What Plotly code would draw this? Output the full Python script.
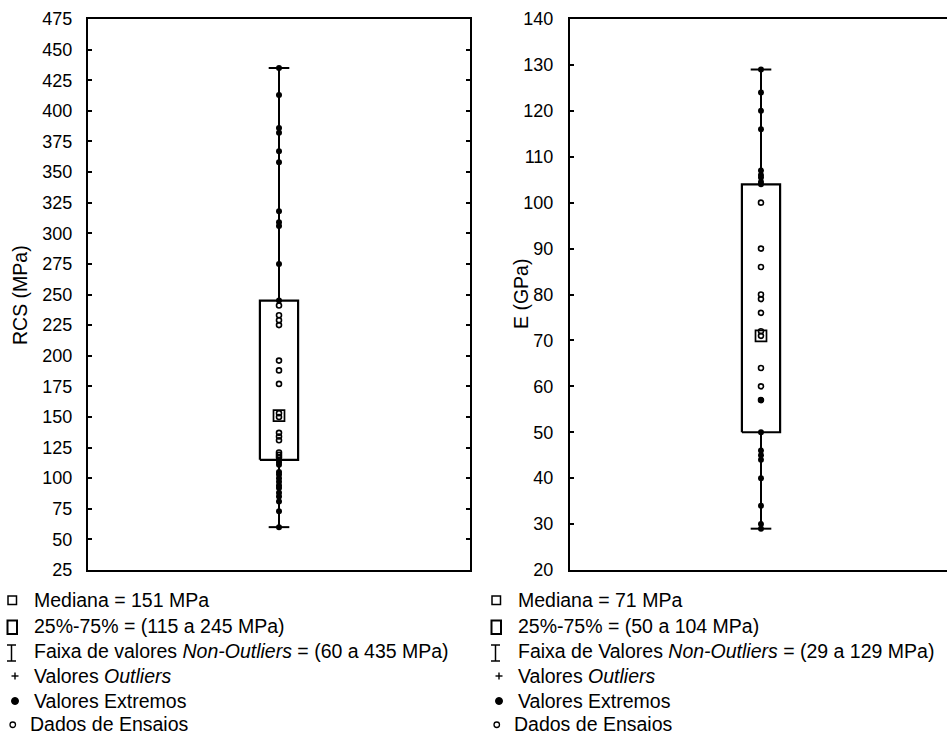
import plotly.graph_objects as go

# ---------------- data ----------------
rcs_test = [241, 233, 229, 225, 196, 188, 177, 153, 150, 137, 134, 131, 121, 119, 117]
rcs_extreme = [435, 413, 386, 382, 367, 358, 318, 309, 306, 275, 245,
               115, 113, 111, 105, 103, 100, 97, 94, 92, 88, 85, 81, 73, 60]
rcs_q1, rcs_median, rcs_q3, rcs_lo, rcs_hi = 115, 151, 245, 60, 435

e_test = [100, 90, 86, 80, 79, 76, 72, 71, 64, 60, 57]
e_extreme = [129, 124, 120, 116, 107, 106, 105.5, 104.5, 104,
             57, 50, 46, 45, 44, 40, 34, 30, 29]
e_q1, e_median, e_q3, e_lo, e_hi = 50, 71, 104, 29, 129

rcs_ticks = list(range(25, 476, 25))
e_ticks = list(range(20, 141, 10))

legend_left = [
    "Mediana = 151 MPa",
    "25%-75% = (115 a 245 MPa)",
    "Faixa de valores <i>Non-Outliers</i> = (60 a 435 MPa)",
    "Valores <i>Outliers</i>",
    "Valores Extremos",
    "Dados de Ensaios",
]
legend_right = [
    "Mediana = 71 MPa",
    "25%-75% = (50 a 104 MPa)",
    "Faixa de Valores <i>Non-Outliers</i> = (29 a 129 MPa)",
    "Valores <i>Outliers</i>",
    "Valores Extremos",
    "Dados de Ensaios",
]

# ---------------- layout helpers ----------------
W, H = 947, 736
FONT = "Liberation Sans, Arial, sans-serif"


def px(x):
    return x / W


def py(y):
    return 1 - y / H


BOX_HW = 0.05
CAP_HW = 0.027

fig = go.Figure()


def add_panel(xa, ya, q1, med, q3, lo, hi, test, extreme):
    # whiskers + caps
    fig.add_trace(go.Scatter(
        x=[0, 0, None, 0, 0, None, -CAP_HW, CAP_HW, None, -CAP_HW, CAP_HW],
        y=[lo, q1, None, q3, hi, None, lo, lo, None, hi, hi],
        mode="lines", line=dict(color="black", width=2),
        xaxis=xa, yaxis=ya, showlegend=False, hoverinfo="skip"))
    # box
    fig.add_trace(go.Scatter(
        x=[-BOX_HW, BOX_HW, BOX_HW, -BOX_HW, -BOX_HW],
        y=[q1, q1, q3, q3, q1],
        mode="lines", fill="toself", fillcolor="white",
        line=dict(color="black", width=2.2),
        xaxis=xa, yaxis=ya, showlegend=False, hoverinfo="skip"))
    # test data (open)
    fig.add_trace(go.Scatter(
        x=[0] * len(test), y=test, mode="markers",
        marker=dict(symbol="circle-open", size=5, color="black", line=dict(width=1.6)),
        xaxis=xa, yaxis=ya, showlegend=False))
    # extreme values (filled)
    fig.add_trace(go.Scatter(
        x=[0] * len(extreme), y=extreme, mode="markers",
        marker=dict(symbol="circle", size=6, color="black"),
        xaxis=xa, yaxis=ya, showlegend=False))
    # median
    fig.add_trace(go.Scatter(
        x=[0], y=[med], mode="markers",
        marker=dict(symbol="square-open", size=11, color="black", line=dict(width=1.7)),
        xaxis=xa, yaxis=ya, showlegend=False))


add_panel("x", "y", rcs_q1, rcs_median, rcs_q3, rcs_lo, rcs_hi, rcs_test, rcs_extreme)
add_panel("x2", "y2", e_q1, e_median, e_q3, e_lo, e_hi, e_test, e_extreme)

ydom = [py(570), py(19)]
axis_common = dict(showgrid=False, zeroline=False, showline=True, linecolor="black",
                   linewidth=2, automargin=False)

fig.update_layout(
    width=W, height=H,
    margin=dict(l=0, r=0, t=0, b=0),
    paper_bgcolor="white", plot_bgcolor="white",
    font=dict(family=FONT, color="black", size=18),
    showlegend=False,
    xaxis=dict(domain=[px(88), px(470)], range=[-0.5, 0.5], showticklabels=False,
               ticks="", mirror=True, fixedrange=True, **axis_common),
    yaxis=dict(domain=ydom, range=[25, 475], tickvals=rcs_ticks, ticks="inside",
               ticklen=4, tickwidth=1.5, tickcolor="black", mirror="ticks",
               ticklabelstandoff=10, tickfont=dict(size=18), **axis_common),
    xaxis2=dict(domain=[px(570), 1.0], range=[-0.5, -0.5 + 377 / 382], showticklabels=False,
                ticks="", mirror=True, anchor="y2", fixedrange=True, **axis_common),
    yaxis2=dict(domain=ydom, range=[20, 140], tickvals=e_ticks, ticks="inside",
                ticklen=4, tickwidth=1.5, tickcolor="black", mirror=False, anchor="x2",
                ticklabelstandoff=11, tickfont=dict(size=18), **axis_common),
)

annotations = [
    dict(text="RCS (MPa)", x=px(20), y=py(295), textangle=-90),
    dict(text="E (GPa)", x=px(521), y=py(294), textangle=-90),
]
for a in annotations:
    a.update(xref="paper", yref="paper", showarrow=False, xanchor="center",
             yanchor="middle", font=dict(size=19.5))

rows_y = [600, 626, 651, 676, 701, 724]
shapes = []
for off, texts in ((0, legend_left), (484, legend_right)):
    for i, (t, ry) in enumerate(zip(texts, rows_y)):
        tx = 32 if i < 5 else 28
        annotations.append(dict(text=t, x=px(off + tx), y=py(ry), xref="paper", yref="paper",
                                showarrow=False, xanchor="left", yanchor="middle",
                                font=dict(size=19.5)))
    ln = dict(color="black", width=1.5)
    # small square (median)
    shapes.append(dict(type="rect", x0=px(off + 8), x1=px(off + 16.5), y0=py(604.5), y1=py(596),
                       line=ln, xref="paper", yref="paper"))
    # large square (box)
    shapes.append(dict(type="rect", x0=px(off + 7.5), x1=px(off + 17), y0=py(634), y1=py(620.5),
                       line=dict(color="black", width=2), xref="paper", yref="paper"))
    # I-beam (range)
    for (x0, y0, x1, y1) in ((7, 645, 16, 645), (7, 661, 16, 661), (11.5, 645, 11.5, 661)):
        shapes.append(dict(type="line", x0=px(off + x0), x1=px(off + x1), y0=py(y0), y1=py(y1),
                           line=ln, xref="paper", yref="paper"))
    # plus (outliers)
    for (x0, y0, x1, y1) in ((11.5, 676, 18.5, 676), (15, 672.5, 15, 679.5)):
        shapes.append(dict(type="line", x0=px(off + x0), x1=px(off + x1), y0=py(y0), y1=py(y1),
                           line=dict(color="black", width=1.4), xref="paper", yref="paper"))
    # filled circle (extremes)
    shapes.append(dict(type="circle", x0=px(off + 11.5), x1=px(off + 18.5), y0=py(704.5), y1=py(697.5),
                       fillcolor="black", line=dict(color="black", width=1),
                       xref="paper", yref="paper"))
    # open circle (test data)
    shapes.append(dict(type="circle", x0=px(off + 10), x1=px(off + 15.5), y0=py(727.5), y1=py(722),
                       line=dict(color="black", width=1.3), xref="paper", yref="paper"))

fig.update_layout(annotations=annotations, shapes=shapes)

fig.write_html(
    "out.html",
    config={"displayModeBar": False},
    post_script="document.body.style.margin='0';document.body.style.overflow='hidden';",
)
